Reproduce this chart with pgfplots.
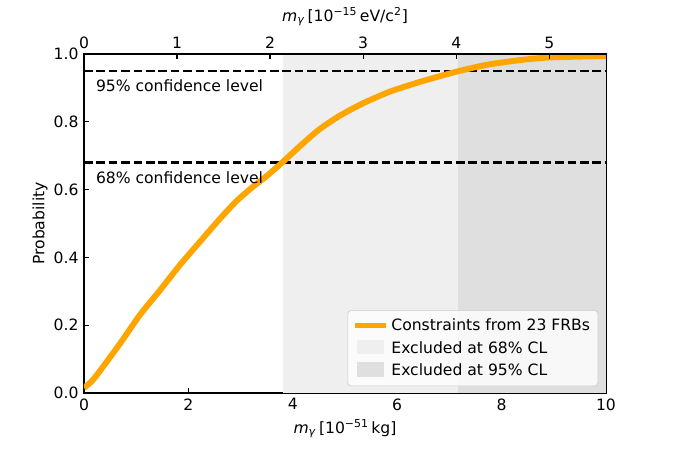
\documentclass[border=0pt]{standalone}
\usepackage{fontspec}
\setmainfont{DejaVu Sans}
\setsansfont{DejaVu Sans}
\usepackage{pgfplots}
\pgfplotsset{compat=1.18}
\definecolor{mplorange}{HTML}{FFA500}
\definecolor{lgA}{HTML}{EFEFEF}
\definecolor{lgB}{HTML}{DFDFDF}
\begin{document}
\begin{tikzpicture}
\useasboundingbox (0,0) rectangle (432.1pt,288.5pt);
\begin{axis}[
  at={(53.85pt,36.54pt)}, anchor=south west,
  scale only axis, width=334.65pt, height=217.33pt,
  xmin=0, xmax=10, ymin=0, ymax=1,
  xtick={0,2,4,6,8,10}, ytick={0,0.2,0.4,0.6,0.8,1.0},
  xtick pos=bottom, ytick pos=left,
  tick align=inside, major tick length=3.5pt,
  tick style={black, line width=0.8pt},
  axis line style={line width=0.8pt},
  /pgf/number format/assume math mode=true,
  yticklabel style={/pgf/number format/fixed, /pgf/number format/precision=1, /pgf/number format/fixed zerofill},
  ticklabel style={font=\fontsize{10}{12}\selectfont},
  label style={font=\fontsize{10}{12}\selectfont},
  xlabel={\textit{m}\textsubscript{\textit{γ}}\,[10\textsuperscript{−51}\,kg]},
  ylabel={Probability},
  ylabel shift=-3pt,
  xlabel shift=-1pt,
  legend cell align=left,
  legend style={at={(0.985,0.02)}, anchor=south east, draw=black!20, rounded corners=2pt,
    fill=white, fill opacity=0.8, text opacity=1, font=\fontsize{10}{12}\selectfont,
    row sep=1.5pt, inner sep=3pt},
  legend image code/.code={\draw[#1, sharp corners] (0cm,0cm) -- (0.7cm,0cm);},
]
\addlegendimage{mplorange, line width=3pt}
\addlegendentry{Constraints from 23 FRBs}
\addlegendimage{legend image code/.code={\fill[lgA, sharp corners, fill opacity=1] (0.05cm,-0.12cm) rectangle (0.65cm,0.19cm);}}
\addlegendentry{Excluded at 68\% CL}
\addlegendimage{legend image code/.code={\fill[lgB, sharp corners, fill opacity=1] (0.05cm,-0.12cm) rectangle (0.65cm,0.19cm);}}
\addlegendentry{Excluded at 95\% CL}

\addplot[draw=none, fill=lgA, forget plot] coordinates {(3.81,0)(3.81,1)(7.16,1)(7.16,0)} -- cycle;
\addplot[draw=none, fill=lgB, forget plot] coordinates {(7.16,0)(7.16,1)(10,1)(10,0)} -- cycle;

\addplot[black, line width=1.5pt, dash pattern=on 5.55pt off 2.4pt, forget plot] coordinates {(0,0.95)(10,0.95)};
\addplot[black, line width=1.5pt, dash pattern=on 5.55pt off 2.4pt, forget plot] coordinates {(0,0.68)(10,0.68)};

\addplot[mplorange, line width=3.8pt, smooth, tension=0.4, forget plot] coordinates {
(0,0.015)(0.15,0.035)(0.3,0.064)(0.7,0.148)(1.07,0.23)(1.46,0.304)(1.84,0.378)
(2.22,0.446)(2.61,0.515)(2.92,0.566)(3.24,0.609)(3.5,0.640)(3.79,0.679)
(4.2,0.737)(4.52,0.779)(4.9,0.818)(5.35,0.855)(5.86,0.889)(6.44,0.918)
(7.14,0.948)(7.71,0.968)(8.35,0.982)(8.93,0.990)(10,0.994)};

\node[anchor=west, inner sep=0pt, font=\fontsize{10}{12}\selectfont] at (axis cs:0.224,0.906) {95\% confidence level};
\node[anchor=west, inner sep=0pt, font=\fontsize{10}{12}\selectfont] at (axis cs:0.224,0.636) {68\% confidence level};
\end{axis}
\begin{axis}[
  at={(53.85pt,36.54pt)}, anchor=south west,
  scale only axis, width=334.65pt, height=217.33pt,
  xmin=0, xmax=5.6095, ymin=0, ymax=1,
  axis x line*=top, axis y line=none,
  xtick={0,1,2,3,4,5},
  tick align=inside, major tick length=3.5pt,
  tick style={black, line width=0.8pt},
  axis line style={line width=0.8pt},
  /pgf/number format/assume math mode=true,
  ticklabel style={font=\fontsize{10}{12}\selectfont},
  label style={font=\fontsize{10}{12}\selectfont},
  xlabel={\textit{m}\textsubscript{\textit{γ}}\,[10\textsuperscript{−15}\,eV/c\textsuperscript{2}]},
]
\addplot[draw=none] coordinates {(0,0)(5,1)};
\end{axis}
\end{tikzpicture}
\end{document}
